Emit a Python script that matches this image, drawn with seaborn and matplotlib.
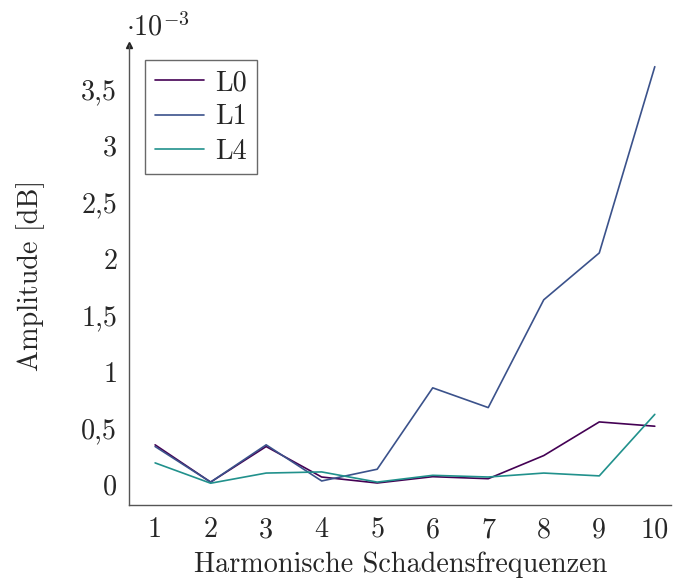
import numpy as np
import pandas as pd
import matplotlib
matplotlib.use("Agg")
import matplotlib.pyplot as plt
import seaborn as sns

harmonics = [1, 2, 3, 4, 5, 6, 7, 8, 9, 10]
L0 = [0.35, 0.02, 0.335, 0.065, 0.012, 0.068, 0.05, 0.255, 0.553, 0.515]
L1 = [0.335, 0.02, 0.35, 0.03, 0.134, 0.855, 0.68, 1.635, 2.05, 3.70]
L4 = [0.19, 0.01, 0.10, 0.11, 0.02, 0.08, 0.065, 0.10, 0.075, 0.62]
series_names = ["L0", "L1", "L4"]
colors = ["#440154", "#3b528b", "#21918c"]
ytick_vals = [0, 0.5, 1, 1.5, 2, 2.5, 3, 3.5]
ytick_labels = ["0", "0,5", "1", "1,5", "2", "2,5", "3", "3,5"]

df = pd.DataFrame({
    "Harmonische": harmonics * 3,
    "Amplitude": L0 + L1 + L4,
    "Serie": [n for n in series_names for _ in harmonics],
})

sns.set_theme(style="white")
plt.rcParams["font.family"] = ["cmr10", "DejaVu Serif"]
plt.rcParams["mathtext.fontset"] = "cm"
plt.rcParams["axes.formatter.use_mathtext"] = True

fig = plt.figure(figsize=(6.73, 5.8), dpi=100)
ax = fig.add_axes([0.1917, 0.1293, 0.806, 0.7927])

sns.lineplot(data=df, x="Harmonische", y="Amplitude", hue="Serie",
             palette=colors, linewidth=1.2, ax=ax, legend=True)

ax.set_xlim(0.53, 10.3)
ax.set_ylim(-0.183, 3.89)
ax.set_xticks(harmonics)
ax.set_xticklabels([str(h) for h in harmonics])
ax.set_yticks(ytick_vals)
ax.set_yticklabels(ytick_labels)

fs = 20.3
ax.tick_params(axis="both", labelsize=fs, direction="inout", length=9,
               width=0.8, color="#777777", pad=4)
for s in ["top", "right"]:
    ax.spines[s].set_visible(False)
for s in ["left", "bottom"]:
    ax.spines[s].set_color("#555555")
    ax.spines[s].set_linewidth(1.0)

# arrow head at the top of the y axis
ax.plot([0], [1], marker="^", color="#222222", markersize=5,
        transform=ax.transAxes, clip_on=False)

ax.set_xlabel("Harmonische Schadensfrequenzen", fontsize=fs, labelpad=6)
ax.set_ylabel("Amplitude [dB]", fontsize=fs, labelpad=26)

ax.text(-0.005, 1.008, r"$\cdot 10^{-3}$", transform=ax.transAxes,
        fontsize=fs, ha="left", va="bottom")

leg = ax.legend(loc="upper left", bbox_to_anchor=(0.03, 0.968), fontsize=fs,
                frameon=True, fancybox=False, edgecolor="#444444",
                handlelength=1.75, handletextpad=0.38, borderpad=0.35,
                labelspacing=0.28, borderaxespad=0)
leg.get_frame().set_linewidth(1.0)
leg.get_frame().set_facecolor("white")

fig.savefig("out.png", dpi=100)
